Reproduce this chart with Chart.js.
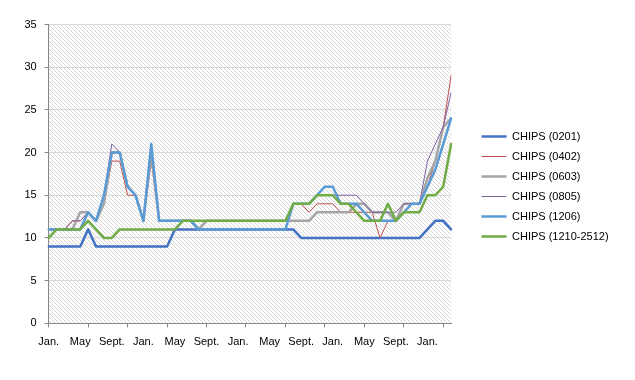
<!DOCTYPE html>
<html>
<head>
<meta charset="utf-8">
<script src="https://cdn.jsdelivr.net/npm/chart.js@4.4.1/dist/chart.umd.min.js"></script>
<style>
  html, body { margin: 0; padding: 0; background: #ffffff; }
  #c { display: block; }
</style>
</head>
<body>
<canvas id="c" width="635" height="380"></canvas>
<script>
// ---- data ----
const months = [
  'Jan.','Feb.','Mar.','Apr.','May','Jun.','Jul.','Aug.','Sept.','Oct.','Nov.','Dec.',
  'Jan.','Feb.','Mar.','Apr.','May','Jun.','Jul.','Aug.','Sept.','Oct.','Nov.','Dec.',
  'Jan.','Feb.','Mar.','Apr.','May','Jun.','Jul.','Aug.','Sept.','Oct.','Nov.','Dec.',
  'Jan.','Feb.','Mar.','Apr.','May','Jun.','Jul.','Aug.','Sept.','Oct.','Nov.','Dec.',
  'Jan.','Feb.','Mar.','Apr.'
];
const seriesNames = ['CHIPS (0201)','CHIPS (0402)','CHIPS (0603)','CHIPS (0805)','CHIPS (1206)','CHIPS (1210-2512)'];

const chips0201 = [9,9,9,9,9,11,9,9,9,9,9,9,9,9,9,9,
  11,11,11,11,11,11,11,11,11,11,11,11,11,11,11,11,
  10,10,10,10,10,10,10,10,10,10,10,10,10,10,10,10,
  11,12,12,11];
const chips0402 = [11,11,11,12,12,13,12,14,19,19,15,15,12,19,
  12,12,12,12,12,12,12,12,12,12,12,12,12,12,12,12,12,
  14,14,13,14,14,14,13,13,13,13,13,10,12,12,13,14,14,
  16,19,23,29];
const chips0603 = [11,11,11,11,13,13,12,14,20,20,16,15,12,20,
  12,12,12,12,12,11,
  12,12,12,12,12,12,12,12,12,12,12,12,12,12,
  13,13,13,13,13,14,14,13,13,13,12,14,14,14,
  17,19,23,24];
const chips0805 = [11,11,11,12,12,13,12,15,21,20,16,15,12,21,
  12,12,12,12,12,12,12,12,12,12,12,12,12,12,12,12,12,
  14,14,14,15,15,15,15,15,15,14,13,13,13,13,14,14,14,
  19,21,23,27];
const chips1206 = [11,11,11,11,11,13,12,15,20,20,16,15,12,21,
  12,12,12,12,12,
  11,11,11,11,11,11,11,11,11,11,11,11,
  14,14,14,15,16,16,14,14,14,13,12,12,12,12,13,14,14,
  16,18,21,24];
const chips1210 = [10,11,11,11,11,12,11,10,10,
  11,11,11,11,11,11,11,11,
  12,12,12,12,12,12,12,12,12,12,12,12,12,12,
  14,14,14,15,15,15,14,14,13,12,12,12,14,12,13,13,13,
  15,15,16,21];
const yTicks = [0,5,10,15,20,25,30,35];

// ---- styling ----
const FONT = { family: '"Liberation Sans", Arial, sans-serif', size: 11 };
const seriesValues = [chips0201, chips0402, chips0603, chips0805, chips1206, chips1210];
const seriesColors = ['#4472C4','#C0504D','#A5A5A5','#8064A2','#5B9BD5','#70AD47'];
const seriesWidths = [2.5, 1, 2.5, 1, 2.5, 2.5];

const datasets = seriesNames.map((name, i) => ({
  label: name,
  data: seriesValues[i],
  borderColor: seriesColors[i],
  backgroundColor: seriesColors[i],
  borderWidth: seriesWidths[i],
  pointRadius: 0,
  pointHoverRadius: 0,
  tension: 0,
  fill: false,
  borderJoinStyle: 'round',
  borderCapStyle: 'round',
  order: seriesNames.length - i
}));

// legend geometry: box 25 + gap 5.5 + widest text, plus padding 9 and 10
const LEG_BOX = 25, LEG_PAD = 9;
const measureCtx = document.createElement('canvas').getContext('2d');
measureCtx.font = FONT.size + 'px ' + FONT.family;
const maxText = Math.max(...seriesNames.map(t => measureCtx.measureText(t).width));
const legendWidth = LEG_PAD + LEG_BOX + FONT.size / 2 + maxText + 10;
const PLOT_RIGHT = 451.1;
const rightPad = Math.max(0, 635 - PLOT_RIGHT - legendWidth);

// hatched plot background
const hatch = (() => {
  const p = document.createElement('canvas');
  p.width = 4; p.height = 4;
  const g = p.getContext('2d');
  g.fillStyle = 'rgb(214,214,214)';
  for (let k = 0; k < 4; k++) g.fillRect(k, k, 1, 1);
  return p;
})();

const hatchPlugin = {
  id: 'hatchBg',
  beforeDraw(chart) {
    const { ctx, chartArea: a } = chart;
    ctx.save();
    ctx.fillStyle = '#ffffff';
    ctx.fillRect(0, 0, chart.width, chart.height);
    ctx.fillStyle = ctx.createPattern(hatch, 'repeat');
    ctx.fillRect(a.left, a.top, a.right - a.left, a.bottom - a.top);
    ctx.restore();
  }
};

const legendPlace = {
  id: 'legendPlace',
  afterLayout(chart) {
    const lg = chart.legend;
    if (!lg) return;
    const w = lg.width;
    lg.left = 472.5;
    lg.right = lg.left + w;
  }
};

new Chart(document.getElementById('c'), {
  type: 'line',
  data: { labels: months, datasets },
  plugins: [hatchPlugin, legendPlace],
  options: {
    responsive: false,
    animation: false,
    devicePixelRatio: 1,
    events: [],
    layout: { padding: { top: 24.5, bottom: 31.5, left: 0, right: rightPad } },
    plugins: {
      tooltip: { enabled: false },
      legend: {
        position: 'right',
        labels: {
          usePointStyle: true,
          pointStyle: 'line',
          pointStyleWidth: LEG_BOX,
          boxHeight: 11,
          padding: LEG_PAD,
          color: '#000000',
          font: FONT,
          sort: (a, b) => a.datasetIndex - b.datasetIndex
        }
      }
    },
    scales: {
      x: {
        type: 'category',
        offset: false,
        grid: {
          drawOnChartArea: false,
          drawTicks: true,
          tickLength: 4,
          tickColor: (c) => (c.index % 5 === 0 ? '#868686' : 'rgba(0,0,0,0)')
        },
        border: { color: '#868686', width: 1 },
        ticks: {
          autoSkip: false,
          maxRotation: 0,
          minRotation: 0,
          padding: 8,
          color: '#000000',
          font: FONT,
          callback: (v, i) => (i % 4 === 0 ? months[i] : '')
        },
        afterFit: (s) => { s.height = 25.2; }
      },
      y: {
        min: 0,
        max: 35,
        afterBuildTicks: (s) => { s.ticks = yTicks.map(v => ({ value: v })); },
        grid: { color: '#d9d9d9', tickLength: 4, tickColor: '#868686' },
        border: { color: '#868686', width: 1 },
        ticks: { padding: 8, color: '#000000', font: FONT },
        afterFit: (s) => { s.width = 48.7; }
      }
    }
  }
});
</script>
</body>
</html>
